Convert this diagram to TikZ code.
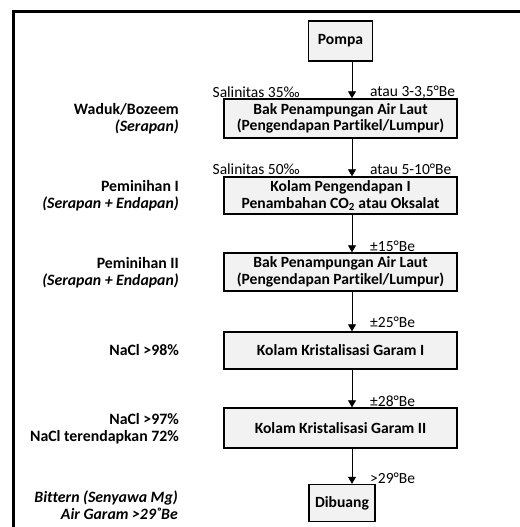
\documentclass[tikz,border=0pt]{standalone}
\usepackage{fontspec}
\setmainfont{Carlito}[Ligatures=NoCommon]
\usetikzlibrary{arrows.meta}
\definecolor{boxgray}{HTML}{F2F2F2}
\tikzset{
  stage/.style={draw, line width=1.4pt, fill=boxgray, align=center, inner sep=0pt,
    font=\bfseries\fontsize{15.6}{16.5}\selectfont},
  widestage/.style={stage, minimum width=233pt},
  endstage/.style={stage, minimum width=64pt},
  side/.style={anchor=east, align=right, inner sep=0pt,
    font=\bfseries\fontsize{15.8}{16.8}\selectfont},
  note/.style={inner sep=0pt, font=\fontsize{15.5}{16}\selectfont},
  flow/.style={-{Triangle[length=7pt,width=8pt]}, line width=0.8pt}
}
\begin{document}
\begin{tikzpicture}[x=1pt,y=-1pt]
      \useasboundingbox (0,0) rectangle (519,527);
      \draw[line width=3pt] (13.5,530) -- (13.5,11.5) -- (522,11.5);
      \coordinate (axis) at (352,0);
      \draw
        (340.5,41) node[endstage, minimum height=40pt] (pompa){Pompa}
        (340.5,118.5) node[widestage, minimum height=39pt] (bak1){Bak Penampungan Air Laut\\(Pengendapan Partikel/Lumpur)}
        (340.5,195.5) node[widestage, minimum height=37pt] (kolam1){Kolam Pengendapan I\\Penambahan CO\textsubscript{2} atau Oksalat}
        (340.5,272) node[widestage, minimum height=38pt] (bak2){Bak Penampungan Air Laut\\(Pengendapan Partikel/Lumpur)}
        (340.5,350.5) node[widestage, minimum height=37pt] (garam1){Kolam Kristalisasi Garam I}
        (340.5,428) node[widestage, minimum height=40pt] (garam2){Kolam Kristalisasi Garam II}
        (342,503) node[endstage, minimum width=66pt, minimum height=37pt] (buang){Dibuang};
      \draw
        (179,119) node[side] (waduk){Waduk/Bozeem\\\textit{(Serapan)}}
        (179,196) node[side] (pemin1){Peminihan I\\\textit{(Serapan + Endapan)}}
        (179,273) node[side] (pemin2){Peminihan II\\\textit{(Serapan + Endapan)}}
        (179,350) node[side] (nacl1){NaCl >98\%}
        (179,429) node[side] (nacl2){NaCl >97\%\\NaCl terendapkan 72\%}
        (178,505.5) node[side] (bittern){\textit{Bittern (Senyawa Mg)}\\\textit{Air Garam >29˚Be}};
      \draw
        (300,92) node[note, anchor=east] (sal1){Salinitas 35‰}
        (370,92) node[note, anchor=west] (be1){atau 3-3,5°Be}
        (300,169) node[note, anchor=east] (sal2){Salinitas 50‰}
        (370,169) node[note, anchor=west] (be2){atau 5-10°Be}
        (370,246) node[note, anchor=west] (be3){±15°Be}
        (370,322) node[note, anchor=west] (be4){±25°Be}
        (370,401) node[note, anchor=west] (be5){±28°Be}
        (370,478) node[note, anchor=west] (be6){>29°Be};
      \begin{scope}[flow]
        \draw (pompa.south -| axis) to (bak1.north -| axis);
        \draw (bak1.south -| axis) to (kolam1.north -| axis);
        \draw (kolam1.south -| axis) to (bak2.north -| axis);
        \draw (bak2.south -| axis) to (garam1.north -| axis);
        \draw (garam1.south -| axis) to (garam2.north -| axis);
        \draw (garam2.south -| axis) to (buang.north -| axis);
      \end{scope}
    \end{tikzpicture}
\end{document}
